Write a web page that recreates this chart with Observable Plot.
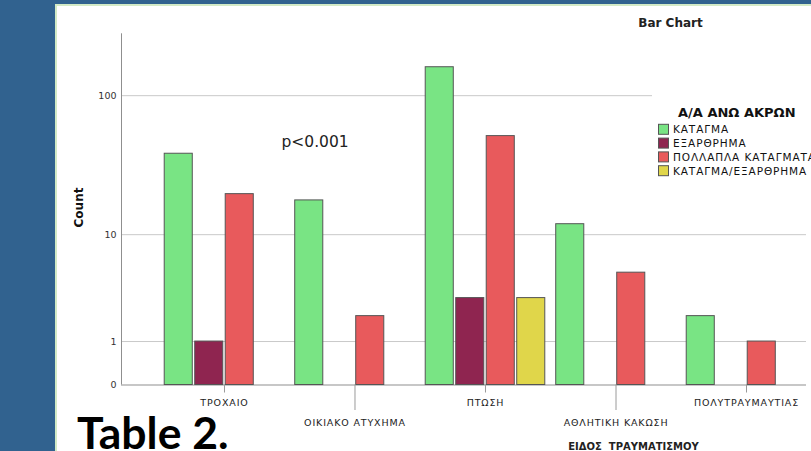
<!DOCTYPE html>
<html>
<head>
<meta charset="utf-8">
<script src="https://cdn.jsdelivr.net/npm/d3@7"></script>
<script src="https://cdn.jsdelivr.net/npm/@observablehq/plot@0.6"></script>
<style>
  html, body { margin: 0; padding: 0; width: 811px; height: 451px; overflow: hidden; background: #31628f; }
  #panel { position: absolute; left: 55px; top: 4px; width: 770px; height: 470px; background: #fff;
           border-left: 2px solid #d3eac6; border-top: 2px solid #d3eac6; }
  .layer { position: absolute; left: 0; top: 0; }
</style>
</head>
<body>
<div id="panel"></div>
<div id="grid" class="layer"></div>
<div id="bars" class="layer"></div>
<div id="notes" class="layer"></div>
<script>
// Injury type (x groups) and upper-limb injury outcome (series)
const categories = ["ΤΡΟΧΑΙΟ", "ΟΙΚΙΑΚΟ ΑΤΥΧΗΜΑ", "ΠΤΩΣΗ", "ΑΘΛΗΤΙΚΗ ΚΑΚΩΣΗ", "ΠΟΛΥΤΡΑΥΜΑΥΤΙΑΣ"];
const series = ["ΚΑΤΑΓΜΑ", "ΕΞΑΡΘΡΗΜΑ", "ΠΟΛΛΑΠΛΑ ΚΑΤΑΓΜΑΤΑ", "ΚΑΤΑΓΜΑ/ΕΞΑΡΘΡΗΜΑ"];

// Counts per injury type, one array per series
const katagma = [39, 18, 158, 12, 2];
const exarthrima = [1, 0, 3, 0, 0];
const pollaplaKatagmata = [20, 2, 52, 5, 1];
const katagmaExarthrima = [0, 0, 3, 0, 0];

const seriesColors = ["#79e484", "#8f2550", "#e85a5c", "#e0d64a"];
const yTicks = [0, 1, 10, 100];

const legendTitle = "Α/Α ΑΝΩ ΑΚΡΩΝ";
const chartTitle = "Bar Chart";
const xTitle = "ΕΙΔΟΣ  ΤΡΑΥΜΑΤΙΣΜΟΥ";
const yTitle = "Count";
const pValue = "p<0.001";
const tableLabel = "Table 2.";

const table = [];
[katagma, exarthrima, pollaplaKatagmata, katagmaExarthrima].forEach((values, s) => {
  values.forEach((count, c) => table.push({category: categories[c], series: series[s], count}));
});

const yScale = {type: "symlog", constant: 1, domain: [0, 270]};
const frame = {height: 451, marginTop: 33.3, marginBottom: 66.5, marginLeft: 121};
const plotHeight = frame.height - frame.marginTop - frame.marginBottom;
const svgStyle = {background: "none", maxWidth: "none", overflow: "visible", fontFamily: "DejaVu Sans"};

// Background layer: gridlines, axis lines and count ticks
const grid = Plot.plot({
  ...frame,
  width: 811,
  marginRight: 5,
  style: svgStyle,
  x: {domain: [0, 1], axis: null},
  y: {...yScale, axis: null},
  marks: [
    Plot.ruleY(yTicks.filter(d => d > 0), {stroke: "#c9c9c9"}),
    Plot.ruleY([0], {stroke: "#8f8f8f"}),
    Plot.ruleX([0], {stroke: "#8f8f8f"}),
    Plot.axisY(yTicks, {tickSize: 0, tickPadding: 5, fontSize: 9.5, color: "#333", tickFormat: d => String(d), label: null})
  ]
});
document.getElementById("grid").append(grid);

// Category ticks and labels alternate between a short and a long row
const upperRow = categories.filter((d, i) => i % 2 === 0);
const lowerRow = categories.filter((d, i) => i % 2 === 1);
const categoryTick = (data, length) => Plot.ruleX(data, {
  fx: d => d, x: null, insetTop: plotHeight, insetBottom: -length, stroke: "#9a9a9a"
});
const categoryLabel = (data, offset) => Plot.text(data, {
  fx: d => d, text: d => d, frameAnchor: "bottom", lineAnchor: "top", dy: offset,
  fontSize: 9.5, fill: "#222", letterSpacing: 0.85
});

// Foreground layer: grouped bars faceted by injury type
const bars = Plot.plot({
  ...frame,
  width: 856,
  marginRight: 7,
  style: svgStyle,
  fx: {domain: categories, paddingInner: 0.0651, paddingOuter: 0.3218, round: false, axis: null},
  x: {domain: series, paddingInner: 0.08, paddingOuter: 0.04, round: false, axis: null},
  y: {...yScale, axis: null},
  color: {domain: series, range: seriesColors},
  marks: [
    Plot.barY(table.filter(d => d.count > 0), {
      fx: "category", x: "series", y: "count", fill: "series", stroke: "#555", strokeWidth: 1
    }),
    categoryTick(upperRow, 8),
    categoryTick(lowerRow, 25.5),
    categoryLabel(upperRow, 14.5),
    categoryLabel(lowerRow, 34.5)
  ]
});
document.getElementById("bars").append(bars);
bars.querySelectorAll("text").forEach(t => t.setAttribute("letter-spacing", "0.85"));

// Titles, annotation and legend
const color = bars.scale("color");
const notes = d3.create("svg")
  .attr("width", 811).attr("height", 451)
  .style("font-family", "DejaVu Sans")
  .style("overflow", "visible");

notes.append("text").text(chartTitle)
  .attr("x", 670.5).attr("y", 27).attr("text-anchor", "middle")
  .attr("font-weight", "bold").attr("font-size", 12).attr("fill", "#222");

notes.append("text").text(pValue)
  .attr("x", 281.5).attr("y", 146.5)
  .attr("font-size", 15.5).attr("fill", "#222");

notes.append("text").text(yTitle)
  .attr("transform", "translate(82.5,207.5) rotate(-90)").attr("text-anchor", "middle")
  .attr("font-weight", "bold").attr("font-size", 12).attr("fill", "#111");

notes.append("text").text(xTitle)
  .attr("x", 633.5).attr("y", 449.5).attr("text-anchor", "middle")
  .attr("font-weight", "bold").attr("font-size", 10).attr("fill", "#222")
  .style("white-space", "pre");

notes.append("text").text(tableLabel)
  .attr("x", 77).attr("y", 448.5)
  .attr("font-family", "Lato").attr("font-weight", "bold").attr("font-size", 44.5).attr("fill", "#000");

const legend = notes.append("g");
legend.append("rect").attr("x", 652).attr("y", 89).attr("width", 159).attr("height", 95).attr("fill", "#fff");
legend.append("text").text(legendTitle)
  .attr("x", 678).attr("y", 116.5)
  .attr("font-weight", "bold").attr("font-size", 13).attr("fill", "#111");
const rows = legend.selectAll("g.row").data(series).join("g")
  .attr("transform", (d, i) => `translate(658,${129.3 + i * 13.8})`);
rows.append("rect").attr("x", 0.5).attr("y", -5).attr("width", 10).attr("height", 10)
  .attr("fill", d => color.apply(d)).attr("stroke", "#555");
rows.append("text").text(d => d)
  .attr("x", 15).attr("y", 3.9)
  .attr("font-size", 10.5).attr("letter-spacing", 0.9).attr("fill", "#111");

document.getElementById("notes").append(notes.node());
</script>
</body>
</html>
